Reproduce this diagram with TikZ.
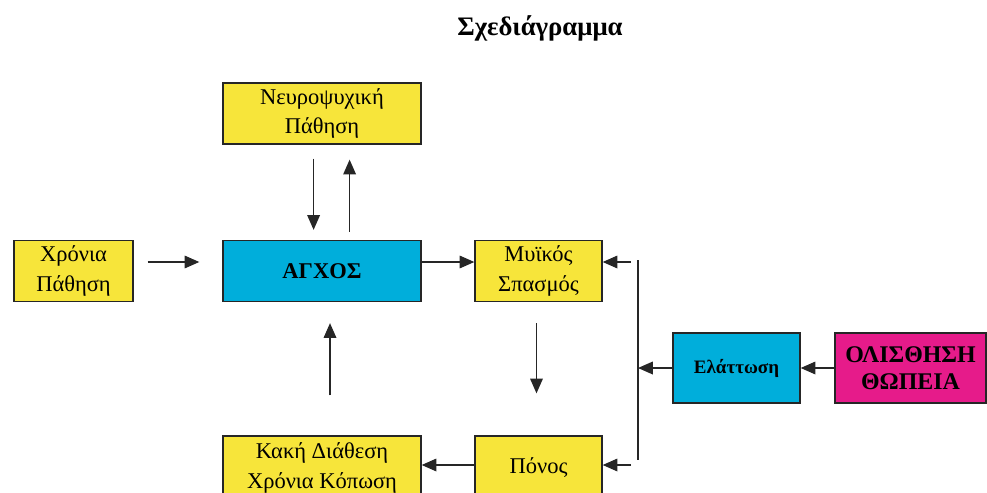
\documentclass[tikz,border=0pt]{standalone}
\usepackage{fontspec}
\setmainfont{Liberation Serif}
\usetikzlibrary{arrows.meta, positioning}
\definecolor{boxYellow}{RGB}{247,229,58}
\definecolor{boxCyan}{RGB}{0,174,219}
\definecolor{boxMagenta}{RGB}{230,27,138}

\begin{document}
\begin{tikzpicture}[x=0.025cm, y=-0.025cm,
	every node/.style={font=\fontsize{16}{21}\selectfont, align=center, inner sep=0pt},
	box/.style={draw=black!85, line width=0.9pt, minimum height=1.525cm},
	arr/.style={-{Triangle[length=10.5pt, width=9pt]}, line width=0.9pt, draw=black!85}]
	\useasboundingbox (0,0) rectangle (987,493);
	\clip (0,0) rectangle (987,493);
	% Title
	\node[font=\fontsize{19}{23}\selectfont\bfseries] (title) at (540,28) {Σχεδιάγραμμα};
	% Top row
	\node[box, fill=boxYellow, minimum width=4.95cm] (neuro) at (322,113.5) {Νευροψυχική\\Πάθηση};
	% Middle row
	\node[box, fill=boxYellow, minimum width=2.975cm] (chronic) at (73.5,271) {Χρόνια\\Πάθηση};
	\node[box, fill=boxCyan, minimum width=4.95cm, font=\fontsize{16}{21}\selectfont\bfseries] (anxiety) at (322,271) {ΑΓΧΟΣ};
	\node[box, fill=boxYellow, minimum width=3.175cm] (spasm) at (538.5,271) {Μυϊκός\\Σπασμός};
	% Right side
	\node[box, fill=boxCyan, minimum width=3.175cm, minimum height=1.75cm, font=\fontsize{13.5}{18}\selectfont\bfseries] (reduction) at (736.5,368) {Ελάττωση};
	\node[box, fill=boxMagenta, minimum width=3.775cm, minimum height=1.75cm, font=\fontsize{17}{19}\selectfont\bfseries] (slip) at (910.5,368) {ΟΛΙΣΘΗΣΗ\\ΘΩΠΕΙΑ};
	% Bottom row
	\node[box, fill=boxYellow, minimum width=4.95cm, minimum height=1.6cm] (mood) at (322,468) {Κακή Διάθεση\\Χρόνια Κόπωση};
	\node[box, fill=boxYellow, minimum width=3.175cm, minimum height=1.6cm] (pain) at (538.5,468) {Πόνος};
	% Arrows between top box and anxiety
	\draw[arr, shorten <=0.35cm, shorten >=0.25cm] ([xshift=-0.21cm]neuro.south) -- ([xshift=-0.21cm]anxiety.north);
	\draw[arr, shorten <=0.2cm, shorten >=0.375cm] ([xshift=0.69cm]anxiety.north) -- ([xshift=0.69cm]neuro.south);
	% Main loop
	\draw[arr, shorten <=0.35cm, shorten >=0.575cm] ([yshift=0.225cm]chronic.east) -- ([yshift=0.225cm]anxiety.west);
	\draw[arr] ([yshift=0.225cm]anxiety.east) -- ([yshift=0.225cm]spasm.west);
	\draw[arr, shorten <=0.525cm, shorten >=1.05cm] ([xshift=-0.05cm]spasm.south) -- ([xshift=-0.05cm]pain.north);
	\draw[arr] ([yshift=0.075cm]pain.west) -- ([yshift=0.075cm]mood.east);
	\draw[arr, shorten <=1cm, shorten >=0.525cm] ([xshift=0.2cm]mood.north) -- ([xshift=0.2cm]anxiety.south);
	% Feedback bar
	\coordinate (barTop) at (638,260);
	\coordinate (barBottom) at (638,460);
	\coordinate (barMid) at (638,368);
	\coordinate (toSpasm) at (631,262);
	\coordinate (toPain) at (631,465);
	\draw[line width=0.9pt, black!85] (barTop) -- (barBottom);
	\draw[arr] (toSpasm) -- (toSpasm -| spasm.east);
	\draw[arr] (toPain) -- (toPain -| pain.east);
	\draw[arr] (reduction.west) -- (barMid);
	\draw[arr] (slip.west) -- (reduction.east);
\end{tikzpicture}
\end{document}
